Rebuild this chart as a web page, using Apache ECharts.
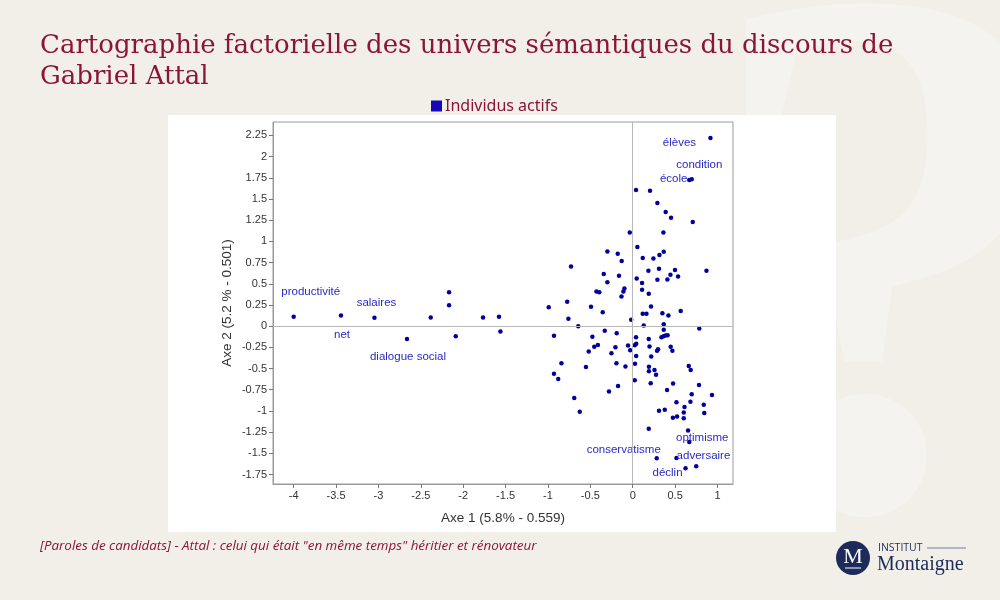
<!DOCTYPE html>
<html>
<head>
<meta charset="utf-8">
<script src="https://cdn.jsdelivr.net/npm/echarts@6/dist/echarts.min.js"></script>
<style>
  html, body { margin: 0; padding: 0; background: #f2efe9; }
  #chart { width: 1000px; height: 600px; }
</style>
</head>
<body>
<div id="chart"></div>
<script>
// factor map coordinates
const axis1 = [
  -4.000, -3.442, -3.047, -2.663, -2.383, -2.167, -2.167, -2.088, -1.766, -1.578, -1.561,
  0.917, 0.667, 0.696, 0.039, 0.204, 0.291, 0.389, 0.452, 0.708, -0.035, 0.362, 0.055,
  -0.299, -0.177, -0.130, 0.118, 0.244, 0.315, 0.366, -0.728, -0.342, -0.162, -0.299,
  0.185, 0.310, 0.499, 0.445, 0.535, 0.409, 0.291, 0.870, 0.047, 0.110, 0.110, 0.189,
  -0.098, -0.110, -0.133, -0.428, -0.395, -0.991, -0.773, -0.492, -0.354, -0.759, -0.643,
  0.216, 0.118, 0.162, 0.350, 0.421, 0.566, -0.018, 0.130, 0.366, 0.785,
  -0.929, -0.476, -0.330, -0.189, 0.039, 0.189, 0.366, 0.339, 0.363, 0.387, 0.411,
  -0.411, -0.454, -0.519, -0.204, -0.251, -0.055, -0.030, 0.024, 0.041, 0.041, 0.198,
  0.287, 0.299, 0.218, 0.448, 0.468, -0.841, -0.192, 0.027, -0.552, -0.086, -0.929,
  -0.879, 0.191, 0.191, 0.257, 0.275, 0.024, 0.212, 0.661, 0.684, 0.476, 0.782,
  -0.280, -0.173, 0.405, 0.696, 0.935, -0.690, -0.625, 0.516, 0.681, 0.838, 0.611,
  0.310, 0.378, 0.602, 0.844, 0.474, 0.523, 0.602, 0.189, 0.653, 0.667, 0.283,
  0.516, 0.623, 0.749
]
const axis2 = [
  0.110, 0.125, 0.098, -0.153, 0.101, 0.400, 0.247, -0.118, 0.101, 0.110, -0.063,
  2.220, 1.724, 1.733, 1.606, 1.597, 1.452, 1.346, 1.279, 1.228, 1.105, 1.105, 0.933,
  0.881, 0.854, 0.767, 0.803, 0.798, 0.838, 0.877, 0.704, 0.614, 0.594, 0.519,
  0.653, 0.677, 0.661, 0.606, 0.586, 0.550, 0.547, 0.653, 0.562, 0.508, 0.429, 0.381,
  0.444, 0.408, 0.349, 0.408, 0.399, 0.224, 0.287, 0.228, 0.163, 0.086, -0.002,
  0.231, 0.145, 0.145, 0.151, 0.125, 0.178, 0.074, 0.007, 0.021, -0.028,
  -0.112, -0.124, -0.053, -0.085, -0.132, -0.153, -0.044, -0.132, -0.118, -0.111, -0.106,
  -0.221, -0.244, -0.300, -0.248, -0.321, -0.227, -0.283, -0.224, -0.209, -0.351, -0.241,
  -0.289, -0.274, -0.359, -0.242, -0.289, -0.439, -0.439, -0.445, -0.481, -0.477, -0.563,
  -0.622, -0.478, -0.531, -0.518, -0.573, -0.638, -0.675, -0.471, -0.518, -0.678, -0.693,
  -0.770, -0.705, -0.754, -0.802, -0.811, -0.847, -1.009, -0.897, -0.891, -0.927, -0.955,
  -0.998, -0.986, -1.018, -1.024, -1.080, -1.065, -1.085, -1.209, -1.230, -1.366, -1.558,
  -1.555, -1.675, -1.652
]
// word shown next to a point (index into the arrays above)
const pointWords = {
  0: 'productivité', 1: 'net', 2: 'salaires', 3: 'dialogue social',
  11: 'élèves', 12: 'condition', 13: 'école',
  131: 'optimisme', 132: 'conservatisme', 133: 'adversaire', 134: 'déclin'
}
const axis1Ticks = [-4, -3.5, -3, -2.5, -2, -1.5, -1, -0.5, 0, 0.5, 1]
const axis2Ticks = [-1.75, -1.5, -1.25, -1, -0.75, -0.5, -0.25, 0, 0.25, 0.5, 0.75, 1, 1.25, 1.5, 1.75, 2, 2.25]

const wordOffsets = {
  'productivité': [17, -25],
  'net': [1, 19],
  'salaires': [2, -15],
  'dialogue social': [1, 18],
  'élèves': [-31, 5],
  'condition': [10, -15],
  'école': [-18, 0],
  'optimisme': [13, -4],
  'conservatisme': [-33, -8],
  'adversaire': [27, -2],
  'déclin': [-18, 5]
}

const red = '#8a1538'
const navy = '#1c2b5a'

const points = axis1.map((x, i) => {
  const word = pointWords[i]
  const item = { value: [x, axis2[i]] }
  if (word) {
    item.label = {
      show: true,
      position: 'inside',
      formatter: word,
      offset: wordOffsets[word],
      fontFamily: 'Liberation Sans',
      fontSize: 11.5,
      color: '#2a2ac4'
    }
  }
  return item
})

const chart = echarts.init(document.getElementById('chart'))
chart.setOption({
  animation: false,
  backgroundColor: '#f2efe9',
  title: {
    text: 'Cartographie factorielle des univers sémantiques du discours de\nGabriel Attal',
    left: 35,
    top: 26,
    textStyle: {
      fontFamily: 'DejaVu Serif',
      fontWeight: 'normal',
      fontSize: 26,
      lineHeight: 31,
      color: red
    }
  },
  legend: {
    left: 426,
    top: 93,
    icon: 'rect',
    itemWidth: 11,
    itemHeight: 11,
    itemGap: 5,
    data: [{ name: 'Individus actifs', itemStyle: { color: '#1608b4' } }],
    textStyle: { fontFamily: 'Noto Sans', fontSize: 16, color: red, padding: [0, 0, 0, -2] }
  },
  graphic: [
    {
      type: 'text',
      z: -20,
      left: 700,
      top: -70,
      style: {
        text: '?',
        font: 'bold 760px "Liberation Serif"',
        fill: 'rgba(255,255,255,0.28)'
      }
    },
    {
      type: 'rect',
      z: -10,
      shape: { x: 168, y: 115, width: 668, height: 417 },
      style: { fill: '#ffffff' }
    },
    {
      type: 'text',
      left: 40,
      top: 540,
      style: {
        text: '[Paroles de candidats] - Attal : celui qui était "en même temps" héritier et rénovateur',
        font: 'italic 13.4px "Open Sans"',
        fill: red
      }
    },
    {
      type: 'group',
      left: 836,
      top: 541,
      children: [
        { type: 'circle', shape: { cx: 17, cy: 17, r: 17 }, style: { fill: navy } },
        {
          type: 'text',
          style: { x: 17, y: 16, text: 'M', font: '22px "Liberation Serif"', fill: '#fff', align: 'center', verticalAlign: 'middle' }
        },
        { type: 'line', shape: { x1: 9, y1: 27, x2: 25, y2: 27 }, style: { stroke: '#fff', lineWidth: 1 } },
        {
          type: 'text',
          style: { x: 42, y: 7, text: 'INSTITUT', font: '10.5px "Open Sans"', fill: navy, verticalAlign: 'middle' }
        },
        { type: 'line', shape: { x1: 91, y1: 7, x2: 130, y2: 7 }, style: { stroke: '#9aa3b8', lineWidth: 1.5 } },
        {
          type: 'text',
          style: { x: 41, y: 24, text: 'Montaigne', font: '20px "Liberation Serif"', fill: navy, verticalAlign: 'middle' }
        }
      ]
    }
  ],
  grid: {
    left: 273,
    top: 122,
    width: 460,
    height: 362,
    show: true,
    borderColor: '#9a9a9a',
    borderWidth: 1,
    backgroundColor: '#fff'
  },
  xAxis: {
    type: 'value',
    min: -4.244,
    max: 1.183,
    name: 'Axe 1 (5.8% - 0.559)',
    nameLocation: 'middle',
    nameGap: 27,
    nameTextStyle: { fontFamily: 'Liberation Sans', fontSize: 13.5, color: '#333' },
    axisLine: { show: true, onZero: false, lineStyle: { color: '#9a9a9a' } },
    axisTick: { show: true, length: 4, customValues: axis1Ticks, lineStyle: { color: '#777' } },
    axisLabel: { customValues: axis1Ticks, margin: 6, fontFamily: 'Liberation Sans', fontSize: 11, color: '#333' },
    splitLine: { show: false }
  },
  yAxis: {
    type: 'value',
    min: -1.862,
    max: 2.408,
    name: 'Axe 2 (5.2 % - 0.501)',
    nameLocation: 'middle',
    nameGap: 39,
    nameTextStyle: { fontFamily: 'Liberation Sans', fontSize: 13.5, color: '#333' },
    axisLine: { show: true, onZero: false, lineStyle: { color: '#9a9a9a' } },
    axisTick: { show: true, length: 4, customValues: axis2Ticks, lineStyle: { color: '#777' } },
    axisLabel: { customValues: axis2Ticks, margin: 6, fontFamily: 'Liberation Sans', fontSize: 11, color: '#333' },
    splitLine: { show: false }
  },
  series: [{
    name: 'Individus actifs',
    type: 'scatter',
    symbol: 'circle',
    symbolSize: 4.5,
    itemStyle: { color: '#00009c', opacity: 1 },
    label: { fontFamily: 'Liberation Sans', fontSize: 11.5, color: '#2a2ac4' },
    emphasis: { disabled: true },
    data: points,
    markLine: {
      silent: true,
      symbol: 'none',
      label: { show: false },
      lineStyle: { color: '#b8b8b8', type: 'solid', width: 1 },
      data: [{ xAxis: 0 }, { yAxis: 0 }]
    }
  }]
})
</script>
</body>
</html>
